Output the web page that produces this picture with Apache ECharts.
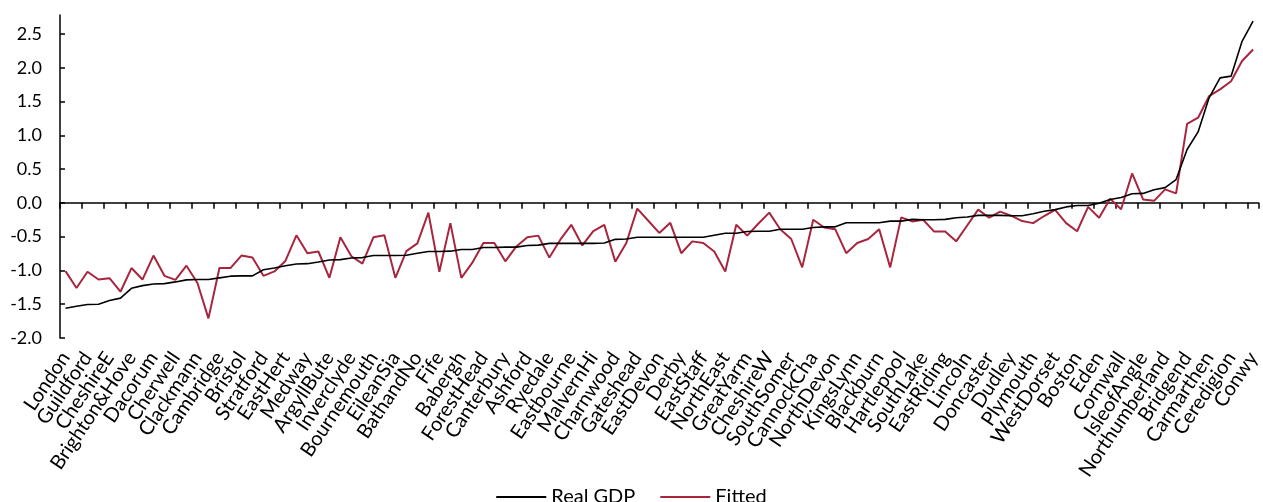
<!DOCTYPE html>
<html>
<head>
<meta charset="utf-8">
<title>Real GDP vs Fitted</title>
<script src="https://cdn.jsdelivr.net/npm/echarts@6/dist/echarts.min.js"></script>
<style>
  html, body { margin: 0; padding: 0; background: #fff; }
  #chart { width: 1263px; height: 502px; }
</style>
</head>
<body>
<div id="chart"></div>
<script>
// Districts shown on the axis (every second district in the ranking)
const labelledDistricts = [
  'London', 'Guildford', 'CheshireE', 'Brighton&Hove', 'Dacorum', 'Cherwell',
  'Clackmann', 'Cambridge', 'Bristol', 'Stratford', 'EastHert', 'Medway',
  'ArgyllBute', 'Inverclyde', 'Bournemouth', 'EileanSia', 'BathandNo', 'Fife',
  'Babergh', 'ForestHead', 'Canterbury', 'Ashford', 'Ryedale', 'Eastbourne',
  'MalvernHi', 'Charnwood', 'Gateshead', 'EastDevon', 'Derby', 'EastStaff',
  'NorthEast', 'GreatYarm', 'CheshireW', 'SouthSomer', 'CannockCha', 'NorthDevon',
  'KingsLynn', 'Blackburn', 'Hartlepool', 'SouthLake', 'EastRiding', 'Lincoln',
  'Doncaster', 'Dudley', 'Plymouth', 'WestDorset', 'Boston', 'Eden',
  'Cornwall', 'IsleofAngle', 'Northumberland', 'Bridgend', 'Carmarthen',
  'Ceredigion', 'Conwy'
];

// Real GDP (standardised), districts sorted ascending
const realGdp = [
  -1.56, -1.53, -1.505, -1.50, -1.445, -1.41, -1.265, -1.225, -1.20, -1.195,
  -1.17, -1.14, -1.135, -1.135, -1.11, -1.085, -1.08, -1.08, -0.99, -0.965,
  -0.93, -0.905, -0.90, -0.875, -0.845, -0.84, -0.815, -0.81, -0.78, -0.78,
  -0.78, -0.775, -0.745, -0.72, -0.72, -0.715, -0.69, -0.69, -0.66, -0.66,
  -0.655, -0.655, -0.63, -0.625, -0.60, -0.60, -0.60, -0.60, -0.60, -0.595,
  -0.54, -0.535, -0.51, -0.51, -0.51, -0.51, -0.51, -0.51, -0.51, -0.48,
  -0.45, -0.45, -0.425, -0.42, -0.42, -0.39, -0.39, -0.39, -0.365, -0.355,
  -0.355, -0.295, -0.295, -0.295, -0.295, -0.27, -0.27, -0.245, -0.25, -0.25,
  -0.245, -0.22, -0.21, -0.185, -0.185, -0.185, -0.19, -0.19, -0.16, -0.125,
  -0.10, -0.06, -0.04, -0.04, -0.005, 0.05, 0.08, 0.135, 0.14, 0.195,
  0.225, 0.345, 0.79, 1.05, 1.555, 1.85, 1.875, 2.39, 2.69
];

// Fitted values from the model
const fitted = [
  -1.01, -1.26, -1.02, -1.135, -1.115, -1.315, -0.965, -1.135, -0.78, -1.08,
  -1.14, -0.93, -1.185, -1.71, -0.965, -0.965, -0.78, -0.81, -1.08, -1.015,
  -0.86, -0.48, -0.745, -0.72, -1.11, -0.51, -0.79, -0.90, -0.51, -0.48,
  -1.11, -0.715, -0.60, -0.145, -1.02, -0.30, -1.11, -0.885, -0.595, -0.595,
  -0.865, -0.645, -0.51, -0.485, -0.81, -0.545, -0.325, -0.63, -0.42, -0.325,
  -0.87, -0.595, -0.085, -0.265, -0.445, -0.295, -0.745, -0.57, -0.595, -0.72,
  -1.015, -0.325, -0.485, -0.31, -0.145, -0.39, -0.535, -0.955, -0.25, -0.365,
  -0.39, -0.745, -0.595, -0.535, -0.39, -0.955, -0.215, -0.275, -0.25, -0.425,
  -0.425, -0.57, -0.335, -0.10, -0.22, -0.13, -0.19, -0.27, -0.30, -0.195,
  -0.105, -0.30, -0.42, -0.06, -0.22, 0.06, -0.095, 0.435, 0.05, 0.03,
  0.20, 0.14, 1.17, 1.26, 1.58, 1.68, 1.80, 2.10, 2.27
];

const yTicks = { min: -2.0, max: 2.78, step: 0.5 };

// One category per district; only every second one carries a name
const categories = realGdp.map((_, i) => (i % 2 === 0 ? labelledDistricts[i / 2] : ''));

const FONT = 'Lato';
const chart = echarts.init(document.getElementById('chart'), null, { renderer: 'canvas' });

chart.setOption({
  animation: false,
  backgroundColor: '#ffffff',
  grid: { left: 60, right: -2, top: 15, bottom: 164, containLabel: false },
  legend: {
    left: 'center',
    top: 482,
    icon: 'rect',
    itemWidth: 50,
    itemHeight: 2,
    itemGap: 25,
    textStyle: { fontFamily: FONT, fontSize: 20, color: '#000' },
    data: ['Real GDP', 'Fitted']
  },
  xAxis: [
    {
      // axis line crossing at zero, with tick marks between district pairs
      type: 'category',
      data: categories,
      boundaryGap: true,
      position: 'bottom',
      axisLine: { onZero: true, lineStyle: { color: '#000', width: 1.5 } },
      axisTick: { show: true, interval: 1, length: 6, lineStyle: { color: '#000', width: 1.5 } },
      axisLabel: { show: false },
      splitLine: { show: false }
    },
    {
      // district names along the bottom of the plot
      type: 'category',
      data: categories,
      boundaryGap: true,
      position: 'bottom',
      axisLine: { show: false, onZero: false },
      axisTick: { show: false },
      axisLabel: {
        interval: 0,
        rotate: 56,
        margin: 16,
        showMinLabel: true,
        showMaxLabel: true,
        hideOverlap: false,
        fontFamily: FONT,
        fontSize: 20,
        color: '#000'
      },
      splitLine: { show: false }
    }
  ],
  yAxis: {
    type: 'value',
    min: yTicks.min,
    max: yTicks.max,
    interval: yTicks.step,
    axisLine: { show: true, lineStyle: { color: '#000', width: 1.5 } },
    axisTick: { show: true, inside: true, length: 5, lineStyle: { color: '#000', width: 1.5 } },
    axisLabel: {
      showMaxLabel: false,
      margin: 18,
      fontFamily: FONT,
      fontSize: 18,
      color: '#000',
      formatter: (v) => v.toFixed(1)
    },
    splitLine: { show: false }
  },
  series: [
    {
      name: 'Real GDP',
      type: 'line',
      xAxisIndex: 0,
      data: realGdp,
      symbol: 'none',
      lineStyle: { color: '#000000', width: 1.6 },
      itemStyle: { color: '#000000' },
      z: 3
    },
    {
      name: 'Fitted',
      type: 'line',
      xAxisIndex: 0,
      data: fitted,
      symbol: 'none',
      lineStyle: { color: '#A8253E', width: 2 },
      itemStyle: { color: '#A8253E' },
      z: 2
    }
  ]
});
</script>
</body>
</html>
